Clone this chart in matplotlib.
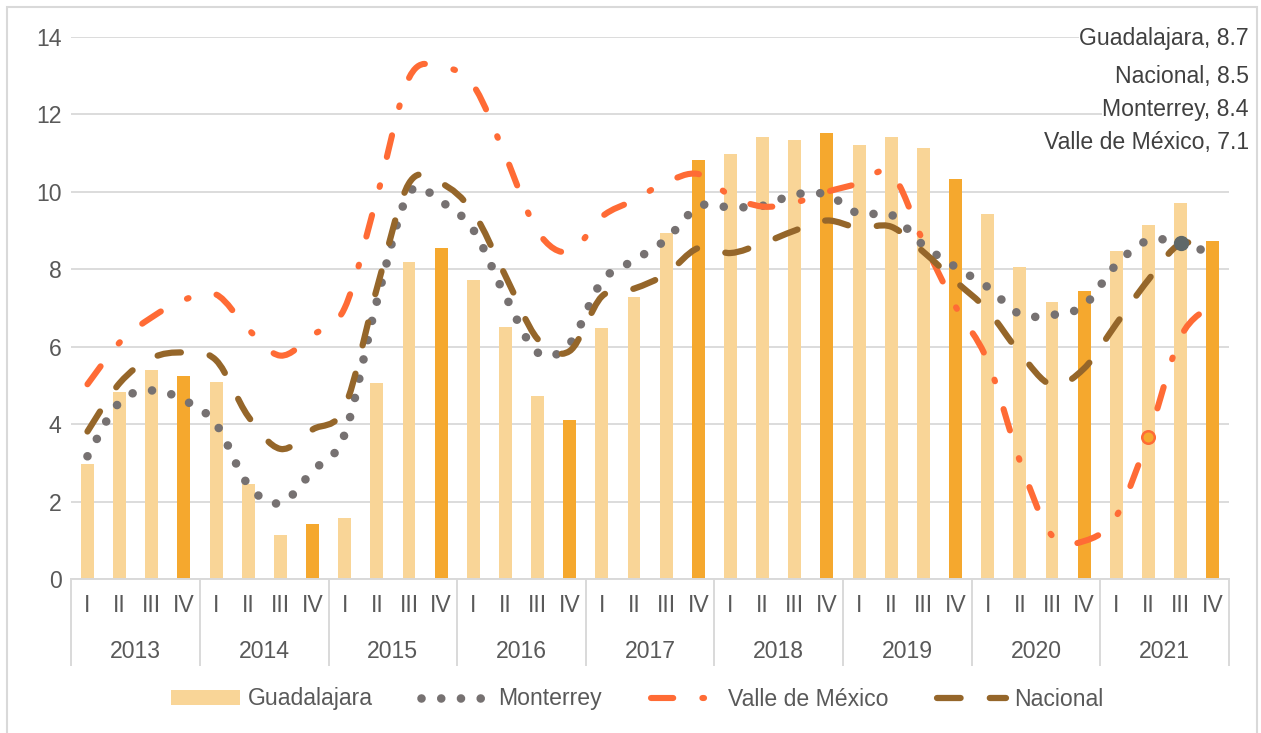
import matplotlib
matplotlib.use('Agg')
import matplotlib.pyplot as plt
from matplotlib.path import Path
from matplotlib.patches import PathPatch, Rectangle, Patch
from matplotlib.lines import Line2D
import matplotlib.transforms as mtransforms
import numpy as np

# ---------------- data ----------------
years = ['2013', '2014', '2015', '2016', '2017', '2018', '2019', '2020', '2021']
quarters = ['I', 'II', 'III', 'IV']

guadalajara = [2.97, 4.84, 5.40, 5.25, 5.10, 2.46, 1.14, 1.42,
               1.58, 5.07, 8.19, 8.56, 7.73, 6.52, 4.73, 4.11,
               6.49, 7.29, 8.95, 10.81, 10.98, 11.42, 11.33, 11.53,
               11.22, 11.42, 11.12, 10.32, 9.42, 8.07, 7.16, 7.45,
               8.48, 9.15, 9.72, 8.74]
monterrey = [3.17, 4.57, 4.87, 4.62, 4.00, 2.43, 1.96, 2.79,
             3.74, 7.17, 9.96, 9.74, 9.02, 7.31, 5.85, 6.08,
             7.69, 8.23, 8.77, 9.62, 9.60, 9.64, 9.93, 9.93,
             9.43, 9.41, 8.62, 8.06, 7.54, 6.84, 6.82, 7.07,
             8.12, 8.75, 8.67, 8.40]
valle = [5.03, 6.11, 6.76, 7.21, 7.35, 6.45, 5.77, 6.30,
         7.00, 9.86, 12.94, 13.23, 12.75, 10.93, 8.98, 8.45,
         9.36, 9.79, 10.25, 10.46, 9.90, 9.62, 9.72, 10.00,
         10.22, 10.48, 8.71, 7.04, 5.63, 3.05, 1.12, 0.98,
         1.62, 3.67, 6.25, 7.09]
nacional = [3.81, 5.06, 5.71, 5.85, 5.65, 4.20, 3.36, 3.86,
            4.44, 7.50, 10.22, 10.22, 9.47, 7.83, 6.20, 5.89,
            7.30, 7.50, 7.88, 8.55, 8.42, 8.67, 9.00, 9.26,
            9.07, 9.10, 8.45, 7.69, 6.94, 5.84, 5.01, 5.44,
            6.59, 7.73, 8.66, 8.50]

end_labels = ['Guadalajara, 8.7', 'Nacional, 8.5', 'Monterrey, 8.4', 'Valle de México, 7.1']
series_names = ['Guadalajara', 'Monterrey', 'Valle de México', 'Nacional']

# ---------------- style ----------------
LIGHT = '#F9D597'
DARK = '#F5A82E'
GRAY = '#767171'
ORANGE = '#FF6B35'
BROWN = '#95662A'
GRID = '#D9D9D9'
TXT = '#595959'
FS = 16.6

plt.rcParams['font.family'] = ['Liberation Sans', 'DejaVu Sans']
plt.rcParams['lines.scale_dashes'] = False

W, H = 1261, 733
fig = plt.figure(figsize=(W / 100, H / 100), dpi=100)


def fx(px):
    return px / W


def fy(py):
    return 1 - py / H


# outer frame
fig.patches.append(Rectangle((fx(7), fy(760)), fx(1257) - fx(7), fy(7) - fy(760),
                             transform=fig.transFigure, fill=False,
                             edgecolor=GRID, lw=1.5))

L, R, T, B = 71.4, 1228.8, 37, 579
ax = fig.add_axes([fx(L), fy(B), fx(R) - fx(L), fy(T) - fy(B)])
ax.set_facecolor('none')

n = len(years) * len(quarters)
x = np.arange(n)
bar_colors = [DARK if q == 'IV' else LIGHT for _ in years for q in quarters]
ax.bar(x, guadalajara, width=0.4, color=bar_colors, zorder=2)


def smooth_path(xs, ys):
    pts = np.column_stack([xs, ys]).astype(float)
    verts = [pts[0]]
    codes = [Path.MOVETO]
    m = len(pts)
    for i in range(m - 1):
        p0 = pts[i - 1] if i > 0 else pts[i]
        p1 = pts[i]
        p2 = pts[i + 1]
        p3 = pts[i + 2] if i + 2 < m else pts[i + 1]
        c1 = p1 + (p2 - p0) / 6.0
        c2 = p2 - (p3 - p1) / 6.0
        verts += [c1, c2, p2]
        codes += [Path.CURVE4] * 3
    return Path(verts, codes)


MON_LS = (0, (0.01, 14.2))
VAL_LS = (0, (16.0, 21.0, 1.2, 21.0))
NAC_LS = (0, (17.0, 21.0))
mon_style = dict(edgecolor=GRAY, lw=6.2, linestyle=MON_LS)
val_style = dict(edgecolor=ORANGE, lw=4.4, linestyle=VAL_LS)
nac_style = dict(edgecolor=BROWN, lw=4.5, linestyle=NAC_LS)

for ys, st, z in [(monterrey, mon_style, 3), (valle, val_style, 4), (nacional, nac_style, 5)]:
    p = PathPatch(smooth_path(x, ys), fill=False, capstyle='round',
                  joinstyle='round', zorder=z, **st)
    ax.add_patch(p)

# highlighted markers
ax.plot(x[33], valle[33], 'o', ms=9, mfc=DARK, mec=ORANGE, mew=1.8, zorder=6)
ax.plot(x[34], monterrey[34], 'o', ms=10, mfc='#5F6868', mec='#5F6868', zorder=6)

ax.set_xlim(-0.5, n - 0.5)
ax.set_ylim(0, 14)
ax.set_yticks(range(0, 15, 2))
ax.tick_params(axis='y', length=0, pad=7, labelsize=FS, labelcolor=TXT)
ax.set_xticks([])
ax.yaxis.grid(True, color=GRID, lw=1.3, zorder=0)
ax.set_axisbelow(True)
for s in ['left', 'right', 'top']:
    ax.spines[s].set_visible(False)
ax.spines['bottom'].set_color(GRID)
ax.spines['bottom'].set_linewidth(1.4)

# category labels
trans = mtransforms.blended_transform_factory(ax.transData, ax.transAxes)
hpx = B - T
y_q = -(605 - B) / hpx
y_y = -(651 - B) / hpx
y_sep = -(665 - B) / hpx
for i in range(n):
    ax.text(x[i], y_q, quarters[i % 4], transform=trans, ha='center', va='center',
            fontsize=FS, color=TXT)
for k, yr in enumerate(years):
    ax.text(4 * k + 1.5, y_y, yr, transform=trans, ha='center', va='center',
            fontsize=FS, color=TXT)
for k in range(len(years) + 1):
    ax.add_line(Line2D([4 * k - 0.5, 4 * k - 0.5], [0, y_sep], transform=trans,
                       color=GRID, lw=1.4, clip_on=False))

# end labels
for lbl, base in zip(end_labels, [45, 83, 116, 149]):
    fig.text(fx(1249), fy(base), lbl, ha='right', va='baseline', fontsize=FS,
             color='#404040',
             bbox=dict(facecolor='white', edgecolor='none', pad=0.5), zorder=10)

# legend
handles = [
    Patch(facecolor=LIGHT, edgecolor='none'),
    Line2D([], [], color=GRAY, lw=6.2, linestyle=MON_LS, dash_capstyle='round'),
    Line2D([], [], color=ORANGE, lw=4.4, linestyle=VAL_LS, dash_capstyle='round'),
    Line2D([], [], color=BROWN, lw=4.5, linestyle=NAC_LS, dash_capstyle='round'),
]
leg = fig.legend(handles, series_names, loc='center', bbox_to_anchor=(fx(637), fy(699)),
                 ncol=4, frameon=False, fontsize=FS, labelcolor=TXT,
                 handlelength=3.0, handletextpad=0.35, columnspacing=2.1,
                 handleheight=0.6)

fig.savefig('out.png', dpi=100)
